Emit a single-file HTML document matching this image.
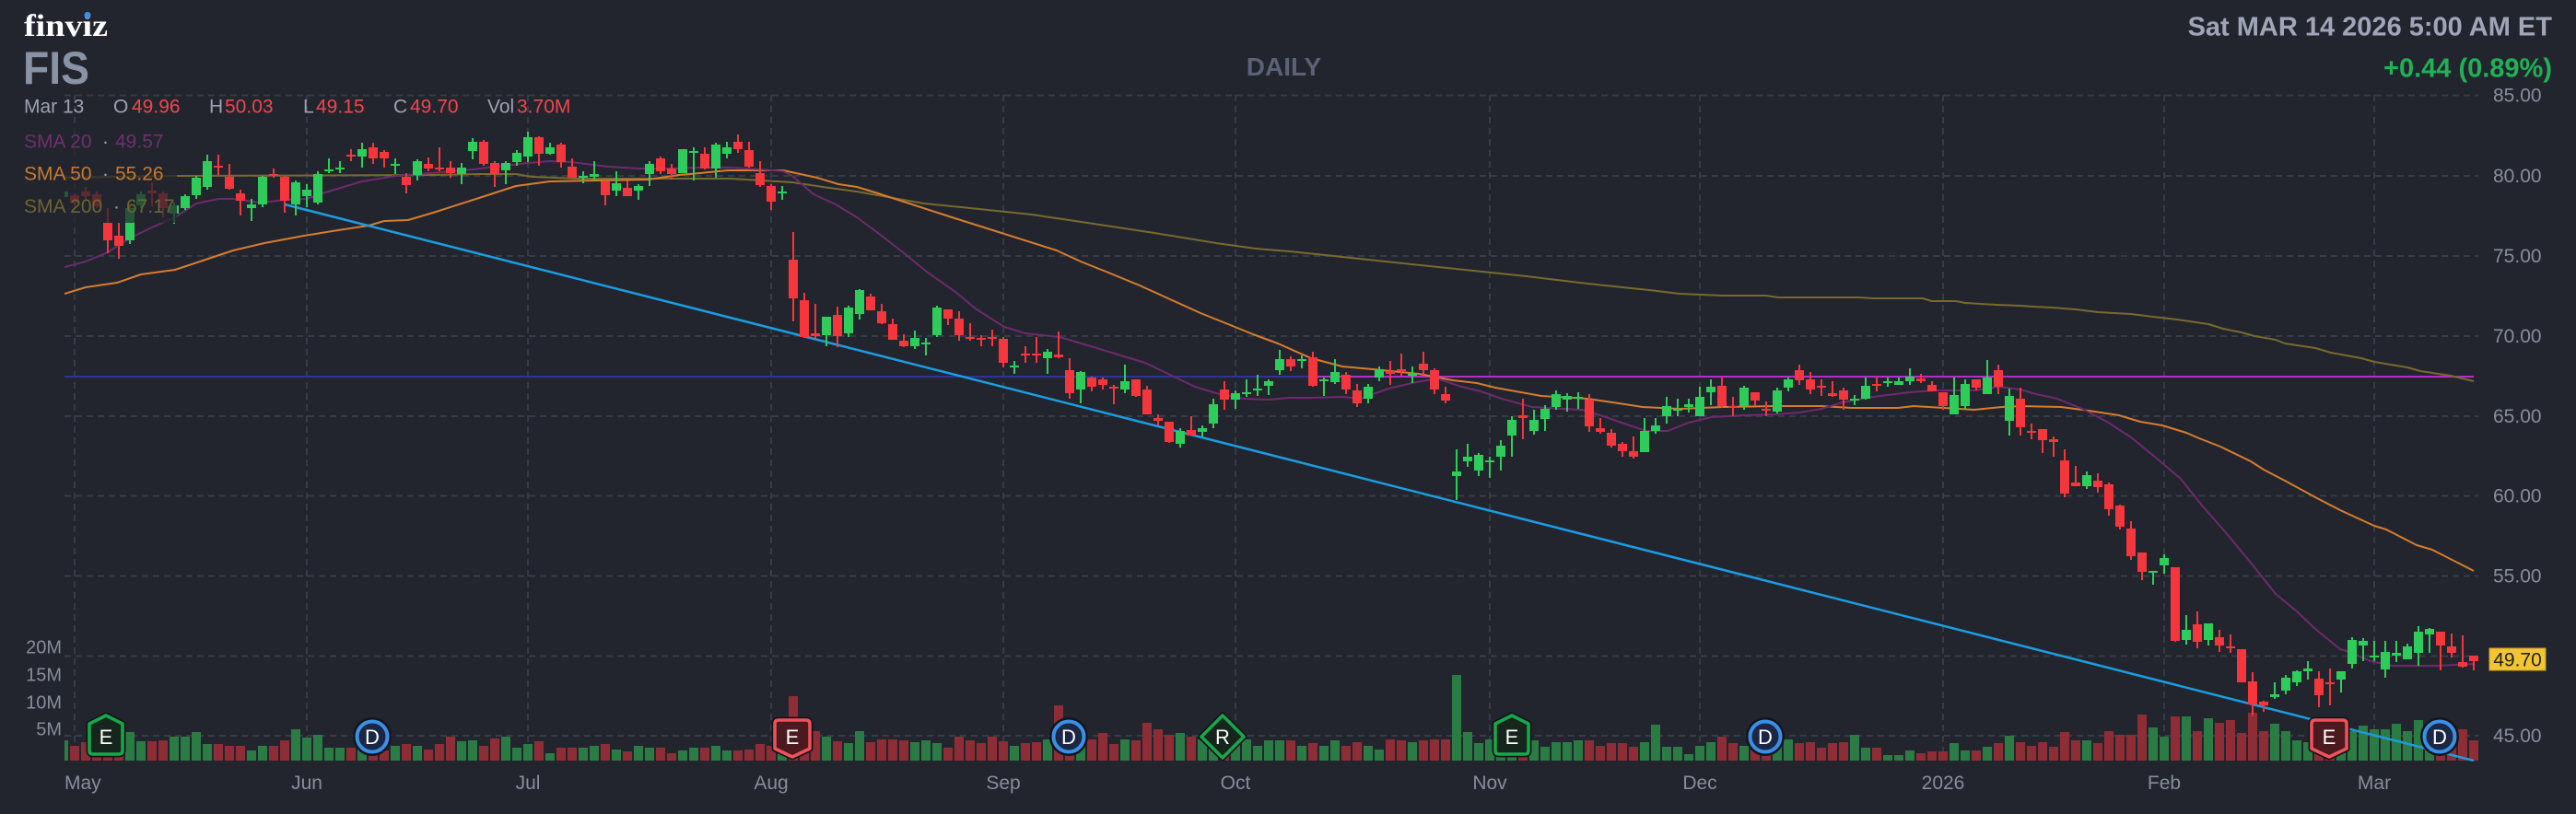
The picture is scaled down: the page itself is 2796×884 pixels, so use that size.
<!DOCTYPE html>
<html><head><meta charset="utf-8"><style>
html,body{margin:0;padding:0;background:#22252e;}
body{width:2796px;height:884px;overflow:hidden;}
svg{display:block;font-family:"Liberation Sans",Arial,sans-serif;}
</style></head><body>
<svg width="2796" height="884" viewBox="0 0 2796 884" xmlns="http://www.w3.org/2000/svg">
<defs><clipPath id="pc"><rect x="70" y="95" width="2622" height="735"/></clipPath></defs>
<rect width="2796" height="884" fill="#22252e"/>
<g stroke="#373b47" stroke-width="2" stroke-dasharray="7 5" fill="none">
<path d="M70 103.5H2690M70 191H2690M70 278H2690M70 365H2690M70 452H2690M70 538.5H2690M70 625.5H2690M70 712.5H2690M70 799H2690"/>
<path d="M81 103V826M333 103V826M573 103V826M837 103V826M1089 103V826M1341 103V826M1617 103V826M1845 103V826M2109 103V826M2349 103V826M2577 103V826"/>
</g>
<g clip-path="url(#pc)">
<line x1="70" y1="409" x2="1423" y2="409" stroke="#2f3394" stroke-width="2"/>
<line x1="1423" y1="409" x2="2685" y2="409" stroke="#b32fc6" stroke-width="2"/>
<path fill="#2b7b45" d="M64 804h10V826h-10z M136 795h10V826h-10z M148 805h10V826h-10z M184 800h10V826h-10z M196 800h10V826h-10z M208 795h10V826h-10z M220 808h10V826h-10z M268 815h10V826h-10z M280 810h10V826h-10z M316 792h10V826h-10z M328 801h10V826h-10z M340 798h10V826h-10z M352 812h10V826h-10z M364 812h10V826h-10z M388 805h10V826h-10z M424 810h10V826h-10z M448 810h10V826h-10z M496 805h10V826h-10z M508 804h10V826h-10z M544 800h10V826h-10z M556 812h10V826h-10z M568 808h10V826h-10z M592 818h10V826h-10z M628 812h10V826h-10z M640 810h10V826h-10z M664 814h10V826h-10z M688 810h10V826h-10z M700 812h10V826h-10z M736 815h10V826h-10z M748 812h10V826h-10z M772 810h10V826h-10z M784 815h10V826h-10z M844 812h10V826h-10z M892 800h10V826h-10z M916 807h10V826h-10z M928 794h10V826h-10z M988 806h10V826h-10z M1000 804h10V826h-10z M1012 807h10V826h-10z M1096 810h10V826h-10z M1132 803h10V826h-10z M1168 805h10V826h-10z M1216 803h10V826h-10z M1276 796h10V826h-10z M1300 803h10V826h-10z M1312 798h10V826h-10z M1336 803h10V826h-10z M1348 803h10V826h-10z M1360 810h10V826h-10z M1372 804h10V826h-10z M1384 804h10V826h-10z M1408 810h10V826h-10z M1432 810h10V826h-10z M1444 804h10V826h-10z M1480 810h10V826h-10z M1492 814h10V826h-10z M1528 806h10V826h-10z M1576 733h10V826h-10z M1588 795h10V826h-10z M1600 807h10V826h-10z M1612 803h10V826h-10z M1624 800h10V826h-10z M1636 805h10V826h-10z M1660 804h10V826h-10z M1672 811h10V826h-10z M1684 806h10V826h-10z M1696 806h10V826h-10z M1708 804h10V826h-10z M1780 806h10V826h-10z M1792 787h10V826h-10z M1804 811h10V826h-10z M1816 811h10V826h-10z M1828 819h10V826h-10z M1840 810h10V826h-10z M1852 806h10V826h-10z M1888 810h10V826h-10z M1924 803h10V826h-10z M1936 803h10V826h-10z M2008 798h10V826h-10z M2020 812h10V826h-10z M2044 820h10V826h-10z M2056 820h10V826h-10z M2068 815h10V826h-10z M2116 807h10V826h-10z M2128 815h10V826h-10z M2152 811h10V826h-10z M2176 799h10V826h-10z M2260 804h10V826h-10z M2332 790h10V826h-10z M2344 800h10V826h-10z M2368 778h10V826h-10z M2392 780h10V826h-10z M2464 786h10V826h-10z M2476 794h10V826h-10z M2488 804h10V826h-10z M2500 806h10V826h-10z M2536 792h10V826h-10z M2548 794h10V826h-10z M2560 788h10V826h-10z M2572 792h10V826h-10z M2584 792h10V826h-10z M2596 786h10V826h-10z M2608 794h10V826h-10z M2620 782h10V826h-10z M2632 790h10V826h-10z"/>
<path fill="#8e2d35" d="M76 810h10V826h-10z M88 806h10V826h-10z M100 800h10V826h-10z M112 798h10V826h-10z M124 808h10V826h-10z M160 805h10V826h-10z M172 804h10V826h-10z M232 808h10V826h-10z M244 810h10V826h-10z M256 810h10V826h-10z M292 810h10V826h-10z M304 804h10V826h-10z M376 812h10V826h-10z M400 805h10V826h-10z M412 815h10V826h-10z M436 808h10V826h-10z M460 814h10V826h-10z M472 808h10V826h-10z M484 800h10V826h-10z M520 810h10V826h-10z M532 802h10V826h-10z M580 805h10V826h-10z M604 812h10V826h-10z M616 812h10V826h-10z M652 808h10V826h-10z M676 816h10V826h-10z M712 812h10V826h-10z M724 818h10V826h-10z M760 812h10V826h-10z M796 815h10V826h-10z M808 814h10V826h-10z M820 808h10V826h-10z M832 810h10V826h-10z M856 756h10V826h-10z M868 790h10V826h-10z M880 794h10V826h-10z M904 805h10V826h-10z M940 806h10V826h-10z M952 803h10V826h-10z M964 803h10V826h-10z M976 804h10V826h-10z M1024 812h10V826h-10z M1036 800h10V826h-10z M1048 804h10V826h-10z M1060 807h10V826h-10z M1072 800h10V826h-10z M1084 805h10V826h-10z M1108 807h10V826h-10z M1120 806h10V826h-10z M1144 766h10V826h-10z M1156 800h10V826h-10z M1180 803h10V826h-10z M1192 796h10V826h-10z M1204 808h10V826h-10z M1228 804h10V826h-10z M1240 785h10V826h-10z M1252 792h10V826h-10z M1264 798h10V826h-10z M1288 800h10V826h-10z M1324 800h10V826h-10z M1396 804h10V826h-10z M1420 807h10V826h-10z M1456 810h10V826h-10z M1468 806h10V826h-10z M1504 803h10V826h-10z M1516 804h10V826h-10z M1540 804h10V826h-10z M1552 803h10V826h-10z M1564 803h10V826h-10z M1648 808h10V826h-10z M1720 804h10V826h-10z M1732 810h10V826h-10z M1744 807h10V826h-10z M1756 807h10V826h-10z M1768 811h10V826h-10z M1864 800h10V826h-10z M1876 807h10V826h-10z M1900 805h10V826h-10z M1912 808h10V826h-10z M1948 807h10V826h-10z M1960 806h10V826h-10z M1972 812h10V826h-10z M1984 807h10V826h-10z M1996 806h10V826h-10z M2032 812h10V826h-10z M2080 818h10V826h-10z M2092 816h10V826h-10z M2104 816h10V826h-10z M2140 815h10V826h-10z M2164 807h10V826h-10z M2188 806h10V826h-10z M2200 810h10V826h-10z M2212 806h10V826h-10z M2224 811h10V826h-10z M2236 795h10V826h-10z M2248 804h10V826h-10z M2272 807h10V826h-10z M2284 794h10V826h-10z M2296 798h10V826h-10z M2308 798h10V826h-10z M2320 776h10V826h-10z M2356 778h10V826h-10z M2380 794h10V826h-10z M2404 785h10V826h-10z M2416 782h10V826h-10z M2428 796h10V826h-10z M2440 774h10V826h-10z M2452 794h10V826h-10z M2512 795h10V826h-10z M2524 800h10V826h-10z M2644 790h10V826h-10z M2656 795h10V826h-10z M2668 792h10V826h-10z M2680 804h10V826h-10z"/>
<g fill="none" stroke-width="2" stroke-linejoin="round">
<polyline stroke="#786a2e" points="70,193 190,191 470,190 520,189 560,189 577,192 627,194 793,194 827,196 860,198 893,203 930,208 1003,221 1053,226 1120,233 1187,243 1253,253 1320,264 1363,270 1400,273 1457,279 1523,286 1590,293 1657,300 1723,308 1790,315 1823,319 1870,321 1917,321 1930,323 2017,323 2033,324 2087,324 2097,327 2123,327 2133,329 2167,331 2193,332 2207,333 2227,334 2253,336 2277,339 2313,341 2337,344 2363,347 2397,352 2413,357 2433,361 2447,365 2470,369 2480,373 2513,378 2530,383 2563,389 2577,393 2613,399 2627,403 2660,408 2685,414"/>
<polyline stroke="#d77d2d" points="70,319 93,312 127,307 153,298 190,293 217,284 253,272 287,264 330,256 367,250 400,245 417,240 443,239 470,231 523,214 560,202 597,197 647,196 703,195 737,190 760,188 790,185 850,185 887,193 910,200 930,203 953,210 987,221 1030,235 1087,253 1147,272 1173,284 1203,296 1237,310 1270,325 1303,340 1333,352 1360,363 1387,373 1423,389 1457,398 1490,401 1540,406 1577,413 1603,416 1623,421 1673,430 1723,433 1757,438 1783,442 1823,444 1870,442 1927,441 1977,441 2010,443 2060,443 2077,441 2110,443 2143,445 2173,442 2193,441 2237,442 2260,445 2300,451 2323,458 2347,462 2373,470 2387,476 2410,485 2443,501 2457,510 2480,522 2513,540 2540,554 2577,571 2590,575 2623,592 2640,597 2685,620"/>
<polyline stroke="#6e2a6e" points="70,290 93,284 117,274 140,259 167,246 190,236 213,221 237,216 253,216 283,220 310,217 333,216 353,209 393,197 430,191 467,188 513,184 573,177 597,175 620,176 660,181 693,183 727,183 760,182 793,182 827,184 850,186 860,191 883,211 907,222 930,236 953,253 980,274 1007,296 1037,317 1060,336 1090,355 1113,362 1150,366 1187,377 1220,387 1243,394 1270,407 1297,420 1320,427 1350,433 1377,434 1400,432 1423,432 1457,431 1477,433 1507,422 1537,415 1560,411 1583,419 1607,425 1630,433 1663,442 1697,444 1717,445 1740,452 1763,460 1787,468 1810,468 1833,459 1857,453 1893,451 1927,450 1953,448 1977,444 2000,437 2033,431 2073,426 2100,424 2143,424 2170,420 2193,423 2210,428 2233,433 2260,444 2287,458 2313,475 2340,497 2367,520 2390,549 2413,575 2433,599 2447,616 2470,645 2493,664 2513,683 2540,705 2553,709 2573,718 2597,723 2647,723 2685,721"/>
</g>
<line x1="309" y1="222" x2="2685" y2="826" stroke="#1b9de2" stroke-width="2.5"/>
<path stroke="#2ecc5a" stroke-width="2" fill="none" d="M69 205V216 M141 224V265 M153 208V226 M189 220V243 M201 211V228 M213 191V216 M225 168V206 M273 216V240 M285 191V225 M321 196V234 M333 200V225 M345 186V222 M357 172V188 M369 175V188 M393 155V182 M429 172V189 M453 173V196 M501 177V200 M513 150V173 M549 175V200 M561 163V180 M573 143V176 M597 155V168 M633 186V199 M645 175V196 M669 186V213 M693 200V217 M705 175V202 M741 162V188 M753 160V196 M777 155V193 M789 154V172 M849 202V217 M897 344V376 M921 332V366 M933 314V347 M993 359V379 M1005 367V386 M1017 332V366 M1101 392V406 M1137 379V406 M1173 403V438 M1221 396V427 M1281 465V486 M1305 462V474 M1317 433V465 M1341 424V444 M1353 412V431 M1365 407V430 M1377 412V429 M1389 380V407 M1413 386V400 M1437 410V430 M1449 390V417 M1485 417V438 M1497 398V414 M1533 398V416 M1581 488V543 M1593 482V507 M1605 492V517 M1617 496V519 M1629 478V511 M1641 452V496 M1665 445V472 M1677 440V468 M1689 424V445 M1701 427V447 M1713 426V444 M1785 454V491 M1797 454V471 M1809 431V460 M1821 433V452 M1833 433V448 M1845 420V452 M1857 412V440 M1893 419V445 M1929 421V449 M1941 410V425 M2013 429V440 M2025 410V434 M2049 410V420 M2061 410V418 M2073 400V418 M2121 410V450 M2133 412V444 M2157 391V428 M2181 422V473 M2265 512V531 M2337 620V635 M2349 602V623 M2373 668V700 M2397 677V701 M2469 741V759 M2481 733V754 M2493 728V745 M2505 718V738 M2541 729V752 M2553 692V726 M2565 693V718 M2577 696V718 M2589 696V736 M2601 696V719 M2613 699V716 M2625 680V723 M2637 682V709"/>
<path fill="#2ecc5a" d="M64 208h10V214h-10z M136 226h10V261h-10z M148 211h10V223h-10z M184 223h10V232h-10z M196 213h10V226h-10z M208 193h10V212h-10z M220 175h10V203h-10z M268 222h10V226h-10z M280 192h10V222h-10z M316 198h10V222h-10z M328 206h10V213h-10z M340 189h10V220h-10z M352 184h10V186h-10z M364 182h10V184h-10z M388 162h10V170h-10z M424 178h10V180h-10z M448 175h10V190h-10z M496 182h10V189h-10z M508 154h10V164h-10z M544 177h10V185h-10z M556 166h10V176h-10z M568 149h10V170h-10z M592 160h10V167h-10z M628 191h10V193h-10z M640 189h10V192h-10z M664 199h10V207h-10z M688 202h10V207h-10z M700 178h10V189h-10z M736 162h10V188h-10z M748 164h10V166h-10z M772 157h10V183h-10z M784 160h10V167h-10z M844 208h10V210h-10z M892 344h10V364h-10z M916 334h10V362h-10z M928 315h10V341h-10z M988 367h10V376h-10z M1000 372h10V374h-10z M1012 334h10V364h-10z M1096 397h10V399h-10z M1132 382h10V389h-10z M1168 404h10V423h-10z M1216 414h10V423h-10z M1276 468h10V482h-10z M1300 465h10V469h-10z M1312 439h10V460h-10z M1336 427h10V434h-10z M1348 426h10V428h-10z M1360 422h10V424h-10z M1372 414h10V419h-10z M1384 390h10V402h-10z M1408 390h10V392h-10z M1432 412h10V414h-10z M1444 404h10V415h-10z M1480 420h10V433h-10z M1492 401h10V410h-10z M1528 406h10V408h-10z M1576 512h10V517h-10z M1588 496h10V501h-10z M1600 494h10V511h-10z M1612 500h10V502h-10z M1624 484h10V496h-10z M1636 456h10V473h-10z M1660 456h10V468h-10z M1672 444h10V455h-10z M1684 428h10V442h-10z M1696 430h10V434h-10z M1708 431h10V433h-10z M1780 468h10V491h-10z M1792 462h10V468h-10z M1804 441h10V452h-10z M1816 444h10V446h-10z M1828 439h10V442h-10z M1840 431h10V452h-10z M1852 420h10V426h-10z M1888 421h10V441h-10z M1924 424h10V447h-10z M1936 412h10V421h-10z M2008 433h10V435h-10z M2020 419h10V433h-10z M2044 414h10V416h-10z M2056 414h10V418h-10z M2068 409h10V414h-10z M2116 429h10V450h-10z M2128 417h10V441h-10z M2152 410h10V428h-10z M2176 430h10V457h-10z M2260 516h10V528h-10z M2332 620h10V622h-10z M2344 606h10V614h-10z M2368 684h10V695h-10z M2392 677h10V695h-10z M2464 754h10V757h-10z M2476 736h10V750h-10z M2488 729h10V741h-10z M2500 726h10V729h-10z M2536 729h10V738h-10z M2548 695h10V721h-10z M2560 696h10V701h-10z M2572 712h10V714h-10z M2584 708h10V727h-10z M2596 709h10V712h-10z M2608 702h10V716h-10z M2620 686h10V709h-10z M2632 683h10V689h-10z"/>
<path stroke="#f5363c" stroke-width="2" fill="none" d="M81 210V224 M93 203V218 M105 208V226 M117 226V275 M129 242V281 M165 198V224 M177 208V236 M237 168V190 M249 178V206 M261 206V234 M297 183V193 M309 191V231 M381 162V175 M405 155V178 M417 163V182 M441 188V210 M465 171V186 M477 160V186 M489 175V193 M525 152V180 M537 175V203 M585 148V180 M609 155V182 M621 172V193 M657 196V223 M681 196V213 M717 170V189 M729 178V195 M765 160V184 M801 146V166 M813 154V182 M825 175V203 M837 200V228 M861 252V349 M873 318V367 M885 330V368 M909 333V377 M945 319V337 M957 330V352 M969 346V369 M981 363V377 M1029 336V353 M1041 338V370 M1053 351V370 M1065 364V376 M1077 358V376 M1089 366V399 M1113 376V394 M1125 366V394 M1149 360V389 M1161 389V433 M1185 409V425 M1197 410V423 M1209 418V439 M1233 412V431 M1245 419V450 M1257 450V462 M1269 458V481 M1293 452V473 M1329 414V445 M1401 387V403 M1425 382V420 M1461 404V428 M1473 417V442 M1509 392V418 M1521 384V408 M1545 382V407 M1557 400V428 M1569 420V438 M1653 433V477 M1725 428V469 M1737 454V471 M1749 466V486 M1761 480V496 M1773 474V498 M1869 410V443 M1881 431V452 M1905 426V441 M1917 436V452 M1953 396V418 M1965 404V428 M1977 412V430 M1989 414V431 M2001 421V445 M2037 410V425 M2085 406V416 M2097 414V425 M2109 426V445 M2145 412V424 M2169 396V428 M2193 421V473 M2205 460V477 M2217 466V492 M2229 474V496 M2241 488V540 M2253 506V528 M2277 514V535 M2289 524V560 M2301 548V575 M2313 566V608 M2325 600V630 M2361 616V697 M2385 664V704 M2409 684V708 M2421 689V709 M2433 705V741 M2445 730V777 M2457 761V773 M2517 729V768 M2529 726V766 M2649 686V728 M2661 688V714 M2673 690V725 M2685 712V728"/>
<path fill="#f5363c" d="M76 212h10V220h-10z M88 208h10V213h-10z M100 211h10V224h-10z M112 242h10V261h-10z M124 256h10V267h-10z M160 207h10V210h-10z M172 210h10V226h-10z M232 180h10V182h-10z M244 192h10V205h-10z M256 210h10V218h-10z M292 189h10V191h-10z M304 192h10V218h-10z M376 168h10V170h-10z M400 160h10V172h-10z M412 165h10V172h-10z M436 192h10V201h-10z M460 178h10V183h-10z M472 182h10V184h-10z M484 182h10V188h-10z M520 154h10V178h-10z M532 177h10V189h-10z M580 149h10V167h-10z M604 157h10V176h-10z M616 181h10V193h-10z M652 197h10V212h-10z M676 204h10V213h-10z M712 172h10V186h-10z M724 183h10V189h-10z M760 167h10V183h-10z M796 154h10V162h-10z M808 163h10V181h-10z M820 188h10V201h-10z M832 202h10V219h-10z M856 282h10V324h-10z M868 326h10V366h-10z M880 362h10V365h-10z M904 342h10V365h-10z M940 322h10V337h-10z M952 338h10V351h-10z M964 352h10V369h-10z M976 370h10V376h-10z M1024 336h10V346h-10z M1036 346h10V364h-10z M1048 366h10V368h-10z M1060 367h10V369h-10z M1072 366h10V368h-10z M1084 368h10V394h-10z M1108 384h10V386h-10z M1120 384h10V386h-10z M1144 385h10V388h-10z M1156 402h10V427h-10z M1180 410h10V420h-10z M1192 412h10V418h-10z M1204 420h10V422h-10z M1228 412h10V430h-10z M1240 423h10V450h-10z M1252 454h10V457h-10z M1264 458h10V480h-10z M1288 467h10V473h-10z M1324 423h10V434h-10z M1396 390h10V398h-10z M1420 388h10V419h-10z M1456 407h10V423h-10z M1468 424h10V438h-10z M1504 403h10V406h-10z M1516 401h10V403h-10z M1540 395h10V402h-10z M1552 402h10V423h-10z M1564 428h10V435h-10z M1648 451h10V454h-10z M1720 434h10V463h-10z M1732 465h10V469h-10z M1744 470h10V484h-10z M1756 482h10V490h-10z M1768 490h10V496h-10z M1864 419h10V441h-10z M1876 441h10V443h-10z M1900 426h10V435h-10z M1912 444h10V446h-10z M1948 402h10V413h-10z M1960 412h10V423h-10z M1972 419h10V421h-10z M1984 427h10V430h-10z M1996 424h10V434h-10z M2032 417h10V419h-10z M2080 411h10V414h-10z M2092 418h10V425h-10z M2104 426h10V441h-10z M2140 412h10V421h-10z M2164 402h10V420h-10z M2188 433h10V464h-10z M2200 468h10V470h-10z M2212 466h10V478h-10z M2224 477h10V480h-10z M2236 500h10V536h-10z M2248 524h10V528h-10z M2272 522h10V529h-10z M2284 526h10V553h-10z M2296 549h10V572h-10z M2308 574h10V604h-10z M2320 600h10V621h-10z M2356 616h10V696h-10z M2380 678h10V697h-10z M2404 692h10V701h-10z M2416 702h10V704h-10z M2428 705h10V741h-10z M2440 740h10V765h-10z M2452 762h10V766h-10z M2512 737h10V755h-10z M2524 741h10V743h-10z M2644 686h10V701h-10z M2656 702h10V709h-10z M2668 719h10V724h-10z M2680 712h10V718h-10z"/>
</g>
<!-- badges -->
<g font-size="22" fill="#ffffff" text-anchor="middle">
<g stroke-linejoin="round">
<path d="M97 786 L115 777 L133 786 V815 Q133 819 129 819 H101 Q97 819 97 815 Z" fill="#16261d" stroke="#13151a" stroke-width="7"/>
<path d="M97 786 L115 777 L133 786 V815 Q133 819 129 819 H101 Q97 819 97 815 Z" fill="#16261d" stroke="#16a84b" stroke-width="3.5"/>
<path d="M1623 786 L1641 777 L1659 786 V815 Q1659 819 1655 819 H1627 Q1623 819 1623 815 Z" fill="#16261d" stroke="#13151a" stroke-width="7"/>
<path d="M1623 786 L1641 777 L1659 786 V815 Q1659 819 1655 819 H1627 Q1623 819 1623 815 Z" fill="#16261d" stroke="#16a84b" stroke-width="3.5"/>
<path d="M841 786 Q841 782 845 782 H875 Q879 782 879 786 V813 L860 822 L841 813 Z" fill="#4b1a1f" stroke="#13151a" stroke-width="7"/>
<path d="M841 786 Q841 782 845 782 H875 Q879 782 879 786 V813 L860 822 L841 813 Z" fill="#4b1a1f" stroke="#f0525a" stroke-width="3.5"/>
<path d="M2509 786 Q2509 782 2513 782 H2543 Q2547 782 2547 786 V813 L2528 822 L2509 813 Z" fill="#4b1a1f" stroke="#13151a" stroke-width="7"/>
<path d="M2509 786 Q2509 782 2513 782 H2543 Q2547 782 2547 786 V813 L2528 822 L2509 813 Z" fill="#4b1a1f" stroke="#f0525a" stroke-width="3.5"/>
<path d="M1327 777 L1350 800 L1327 823 L1304 800 Z" fill="#16261d" stroke="#13151a" stroke-width="7"/>
<path d="M1327 777 L1350 800 L1327 823 L1304 800 Z" fill="#16261d" stroke="#16a84b" stroke-width="3.5"/>
</g>
<g stroke="#13151a" stroke-width="2">
<circle cx="404" cy="800" r="20" fill="#13151a"/>
<circle cx="1160" cy="800" r="20" fill="#13151a"/>
<circle cx="1916" cy="800" r="20" fill="#13151a"/>
<circle cx="2648" cy="800" r="20" fill="#13151a"/>
</g>
<g fill="#1c2745" stroke="#3a8fe6" stroke-width="4">
<circle cx="404" cy="800" r="16.5"/>
<circle cx="1160" cy="800" r="16.5"/>
<circle cx="1916" cy="800" r="16.5"/>
<circle cx="2648" cy="800" r="16.5"/>
</g>
<text x="115" y="808">E</text>
<text x="1641" y="808">E</text>
<text x="860" y="808">E</text>
<text x="2528" y="808">E</text>
<text x="1327" y="808">R</text>
<text x="404" y="808">D</text>
<text x="1160" y="808">D</text>
<text x="1916" y="808">D</text>
<text x="2648" y="808">D</text>
</g>
<!-- legend backdrop -->
<rect x="18" y="138" width="174" height="104" fill="#22252e" opacity="0.72"/>
<!-- header -->
<text x="26" y="39" font-family="'Liberation Serif',serif" font-weight="bold" font-size="34" fill="#ffffff" textLength="91" lengthAdjust="spacingAndGlyphs">finviz</text>
<circle cx="95" cy="16.5" r="3.6" fill="#3b8ee8"/>
<text x="25" y="91" font-weight="bold" font-size="50" fill="#8a92a6" textLength="72" lengthAdjust="spacingAndGlyphs">FIS</text>
<g font-size="21">
<text x="26" y="122.5" fill="#9ca2b2">Mar 13</text>
<text x="123" y="122.5" fill="#9ca2b2">O</text><text x="143" y="122.5" fill="#f0464e">49.96</text>
<text x="227" y="122.5" fill="#9ca2b2">H</text><text x="244" y="122.5" fill="#f0464e">50.03</text>
<text x="329" y="122.5" fill="#9ca2b2">L</text><text x="343" y="122.5" fill="#f0464e">49.15</text>
<text x="427" y="122.5" fill="#9ca2b2">C</text><text x="445" y="122.5" fill="#f0464e">49.70</text>
<text x="529" y="122.5" fill="#9ca2b2">Vol</text><text x="561" y="122.5" fill="#f0464e">3.70M</text>
<text x="26" y="160.5" fill="#6e2f6e">SMA 20</text><text x="111" y="160.5" fill="#9ca2b2">·</text><text x="125" y="160.5" fill="#6e2f6e">49.57</text>
<text x="26" y="195.5" fill="#c8782c">SMA 50</text><text x="111" y="195.5" fill="#9ca2b2">·</text><text x="125" y="195.5" fill="#c8782c">55.26</text>
<text x="26" y="231" fill="#6f6431">SMA 200</text><text x="123" y="231" fill="#9ca2b2">·</text><text x="137" y="231" fill="#6f6431">67.17</text>
</g>
<text x="2770" y="38.5" text-anchor="end" font-weight="bold" font-size="29" fill="#a0a6b8">Sat MAR 14 2026 5:00 AM ET</text>
<text x="2770" y="83.5" text-anchor="end" font-weight="bold" font-size="29" fill="#1fb155">+0.44 (0.89%)</text>
<text x="1393.5" y="82" text-anchor="middle" font-weight="bold" font-size="28" fill="#5c6276">DAILY</text>
<!-- price axis -->
<g font-size="21" fill="#878d9d">
<text x="2706" y="110.5">85.00</text>
<text x="2706" y="198">80.00</text>
<text x="2706" y="285">75.00</text>
<text x="2706" y="372">70.00</text>
<text x="2706" y="459">65.00</text>
<text x="2706" y="545.5">60.00</text>
<text x="2706" y="632.5">55.00</text>
<text x="2706" y="719.5">50.00</text>
<text x="2706" y="806">45.00</text>
</g>
<rect x="2702" y="704" width="61" height="24" fill="#f3c531" stroke="#c9a02a" stroke-width="1"/>
<text x="2732.5" y="723.5" text-anchor="middle" font-size="21" fill="#222222">49.70</text>
<!-- volume axis -->
<g font-size="20" fill="#878d9d" text-anchor="end">
<text x="67" y="709.5">20M</text>
<text x="67" y="739.5">15M</text>
<text x="67" y="769.5">10M</text>
<text x="67" y="798.5">5M</text>
</g>
<!-- month labels -->
<g font-size="21" fill="#878d9d" text-anchor="middle">
<text x="70" y="857" text-anchor="start">May</text>
<text x="333" y="857">Jun</text>
<text x="573" y="857">Jul</text>
<text x="837" y="857">Aug</text>
<text x="1089" y="857">Sep</text>
<text x="1341" y="857">Oct</text>
<text x="1617" y="857">Nov</text>
<text x="1845" y="857">Dec</text>
<text x="2109" y="857">2026</text>
<text x="2349" y="857">Feb</text>
<text x="2577" y="857">Mar</text>
</g>
</svg>
</body></html>
